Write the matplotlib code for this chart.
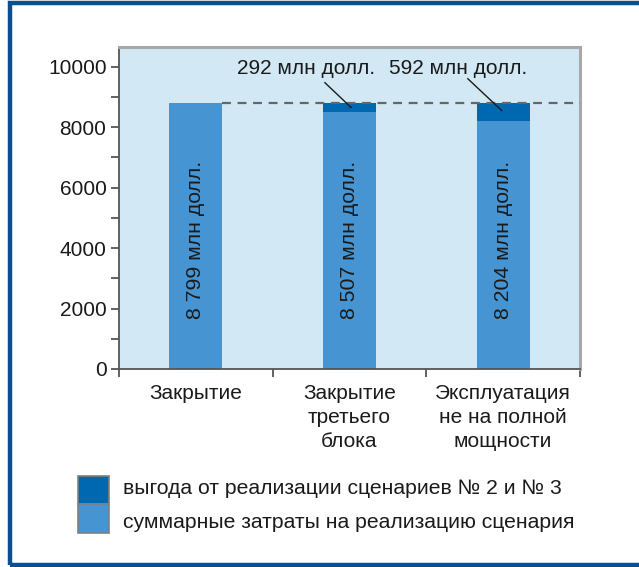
import matplotlib
matplotlib.use("Agg")
import matplotlib.pyplot as plt
from matplotlib.patches import Rectangle
import numpy as np

plt.rcParams['font.family'] = ['Liberation Sans', 'DejaVu Sans']

categories = ["Закрытие", "Закрытие\nтретьего\nблока", "Эксплуатация\nне на полной\nмощности"]
costs = [8799, 8507, 8204]
benefit = [0, 292, 592]
cost_labels = ["8 799 млн долл.", "8 507 млн долл.", "8 204 млн долл."]
benefit_labels = ["292 млн долл.", "592 млн долл."]
legend_labels = ["выгода от реализации сценариев № 2 и № 3",
                 "суммарные затраты на реализацию сценария"]

c_light = "#4695d2"
c_dark = "#0067b1"
c_bg = "#d2e8f5"
c_frame = "#0b4f8f"
c_text = "#1a1a1a"

fig = plt.figure(figsize=(6.39, 5.67), dpi=100)

# outer blue frame
fig.patches.append(Rectangle((9.5 / 639, 2.5 / 567), 1.2, 562 / 567, transform=fig.transFigure,
                             fill=False, edgecolor=c_frame, linewidth=3.2, zorder=0))

ax = fig.add_axes([119 / 639, (567 - 369) / 567, (580 - 119) / 639, (369 - 47) / 567])
ax.set_facecolor(c_bg)

x = np.arange(len(categories))
w = 0.345
ax.bar(x, costs, width=w, color=c_light, zorder=2)
ax.bar(x, benefit, width=w, bottom=costs, color=c_dark, zorder=2)

top = costs[0] + benefit[0]
ax.plot([x[0] + w / 2, 2.5], [top, top], ls=(0, (4, 3)), color="#666666", lw=1.6, zorder=3)

# vertical value labels inside the bars, bottoms aligned
for xi, lab in zip(x, cost_labels):
    ax.text(xi, 1650, lab, rotation=90, ha="center", va="bottom", fontsize=15.3, color=c_text, zorder=4)

# callouts for the benefit segments
txt_pos = [(0.717, 9930), (1.705, 9930)]
starts = [(0.84, 9470), (1.77, 9600)]
ends = [(1.01, 8650), (1.99, 8550)]
for lab, tp, st, en in zip(benefit_labels, txt_pos, starts, ends):
    ax.text(tp[0], tp[1], lab, ha="center", va="center", fontsize=15, color=c_text, zorder=4)
    ax.plot([st[0], en[0]], [st[1], en[1]], color=c_text, lw=1.0, zorder=4)

ax.set_xlim(-0.5, 2.5)
ax.set_ylim(0, 10650)
ax.set_yticks(np.arange(0, 10001, 2000))
ax.set_yticks(np.arange(1000, 10000, 2000), minor=True)
ax.tick_params(axis="y", which="both", direction="out", length=6, width=1.3, color="#555555",
               labelsize=15, pad=3, labelcolor=c_text)

ax.set_xticks([-0.5, 0.5, 1.5, 2.5])
ax.set_xticklabels([])
ax.set_xticks(x, minor=True)
ax.set_xticklabels(categories, minor=True, fontsize=15, linespacing=1.33, color=c_text)
ax.tick_params(axis="x", which="major", direction="out", length=6, width=1.3, color="#555555")
ax.tick_params(axis="x", which="minor", length=0, pad=11)

for s in ["top", "right"]:
    ax.spines[s].set_color("#a8a8a8")
    ax.spines[s].set_linewidth(2.2)
for s in ["left", "bottom"]:
    ax.spines[s].set_color("#555555")
    ax.spines[s].set_linewidth(1.3)

# legend swatches and labels
sw_top = [476, 504]
sw_h = [28, 29]
txt_y = [489, 522]
for lab, col, t, h, ty in zip(legend_labels, [c_dark, c_light], sw_top, sw_h, txt_y):
    fig.patches.append(Rectangle((78 / 639, (567 - t - h) / 567), 31 / 639, h / 567,
                                 transform=fig.transFigure,
                                 facecolor=col, edgecolor="#808080", linewidth=1.2))
    fig.text(123 / 639, (567 - ty) / 567, lab, ha="left", va="center", fontsize=15.2, color=c_text)

fig.savefig("out.png", dpi=100, facecolor="white")
